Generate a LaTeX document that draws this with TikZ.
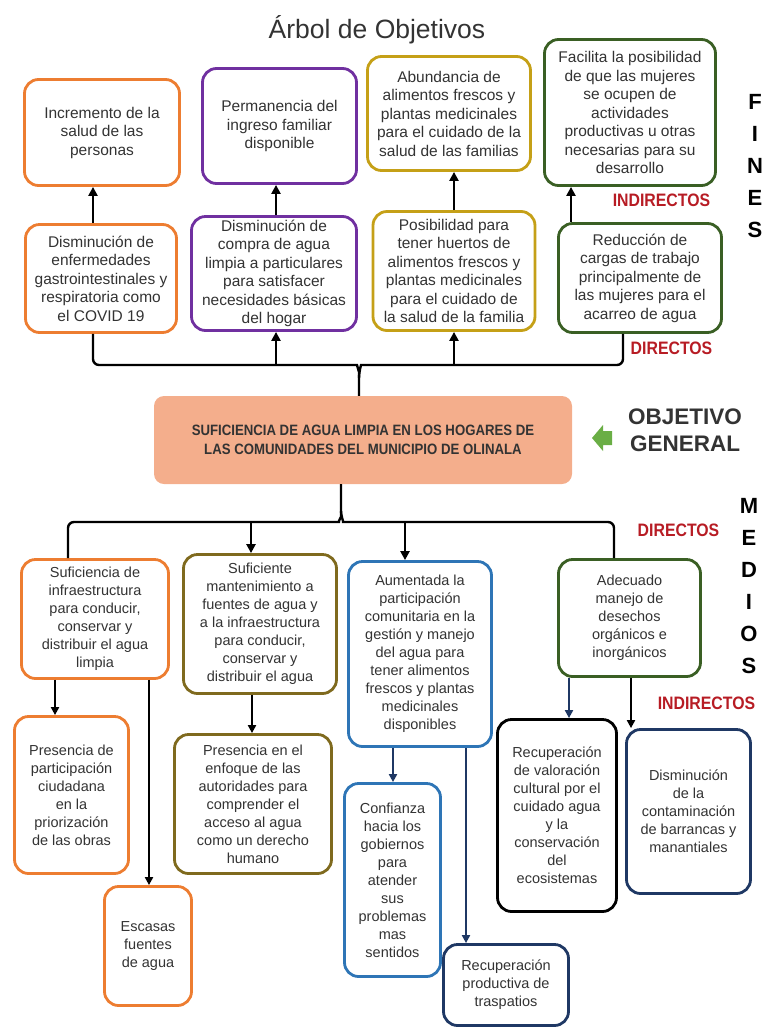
\documentclass[tikz,border=0pt]{standalone}
\usepackage{fontspec}
\setmainfont{Liberation Sans}
\newfontfamily\angosta[FakeStretch=0.88]{Liberation Sans}
\usetikzlibrary{arrows.meta}
\definecolor{naranja}{HTML}{ED7D31}
\definecolor{morado}{HTML}{7030A0}
\definecolor{dorado}{HTML}{C5A017}
\definecolor{verde}{HTML}{3A5F24}
\definecolor{oliva}{HTML}{7F6A1E}
\definecolor{azul}{HTML}{2E75B6}
\definecolor{marino}{HTML}{1F3864}
\definecolor{rojo}{HTML}{B71C24}
\definecolor{salmon}{HTML}{F4AE8C}
\definecolor{verdeclaro}{HTML}{6AAE45}
\definecolor{texto}{HTML}{333333}
\begin{document}
\begin{tikzpicture}[x=1pt, y=-1pt,
    caja/.style={draw=#1, line width=2.8pt, rounded corners=14pt, fill=white, align=center, inner sep=2pt, text=texto},
    fin/.style={font=\fontsize{15.5}{18.5}\selectfont},
    medio/.style={font=\fontsize{14.5}{18}\selectfont},
    flecha/.style={-{Triangle[length=9pt,width=9pt]}, line width=2.4pt},
    flechita/.style={-{Triangle[length=8pt,width=8pt]}, line width=2pt},
    llave/.style={line width=2.4pt, rounded corners=6pt},
    etiqueta/.style={text=rojo, font=\angosta\bfseries\fontsize{18}{20}\selectfont},
    letras/.style={align=center, font=\bfseries\fontsize{22}{32}\selectfont}]

    \useasboundingbox (0,0) rectangle (766,1029);

    \node[font=\fontsize{26.5}{30}\selectfont, text=texto] (titulo) at (377,30) {Árbol de Objetivos};

    \node[caja=naranja, fin, minimum width=155pt, minimum height=106pt] (f1) at (102,132.5) {Incremento de la\\salud de las\\personas};
    \node[caja=morado, fin, minimum width=154pt, minimum height=115pt] (f2) at (279.5,126) {Permanencia del\\ingreso familiar\\disponible};
    \node[caja=dorado, fin, minimum width=163pt, minimum height=114pt] (f3) at (449,113.5) {Abundancia de\\alimentos frescos y\\plantas medicinales\\para el cuidado de la\\salud de las familias};
    \node[caja=verde, fin, minimum width=171pt, minimum height=146pt] (f4) at (630,112.5) {Facilita la posibilidad\\de que las mujeres\\se ocupen de\\actividades\\productivas u otras\\necesarias para su\\desarrollo};

    \node[caja=naranja, fin, minimum width=151pt, minimum height=108pt] (d1) at (101,278.5) {Disminución de\\enfermedades\\gastrointestinales y\\respiratoria como\\el COVID 19};
    \node[caja=morado, fin, minimum width=165pt, minimum height=114pt] (d2) at (274,273.5) {Disminución de\\compra de agua\\limpia a particulares\\para satisfacer\\necesidades básicas\\del hogar};
    \node[caja=dorado, fin, minimum width=162pt, minimum height=119pt] (d3) at (454,271) {Posibilidad para\\tener huertos de\\alimentos frescos y\\plantas medicinales\\para el cuidado de\\la salud de la familia};
    \node[caja=verde, fin, minimum width=163pt, minimum height=109pt] (d4) at (640,278) {Reducción de\\cargas de trabajo\\principalmente de\\las mujeres para el\\acarreo de agua};

    \node[letras] (fines) at (755,166) {F\\I\\N\\E\\S};
    \node[etiqueta] (ind1) at (661.5,200) {INDIRECTOS};
    \node[etiqueta] (dir1) at (671.5,348) {DIRECTOS};

    \node[fill=salmon, rounded corners=10pt, minimum width=418pt, minimum height=88pt, align=center, text=texto,
        font=\angosta\bfseries\fontsize{15}{19}\selectfont] (obj) at (363,440)
        {SUFICIENCIA DE AGUA LIMPIA EN LOS HOGARES DE\\LAS COMUNIDADES DEL MUNICIPIO DE OLINALA};
    \fill[verdeclaro] (592,438) -- (603,425) -- (603,431) -- (612,431) -- (612,445) -- (603,445) -- (603,451) -- cycle;
    \node[align=center, text=texto, font=\bfseries\fontsize{22.5}{27}\selectfont] (general) at (685,430) {OBJETIVO\\GENERAL};

    \node[letras] (medios) at (749,586) {M\\E\\D\\I\\O\\S};
    \node[etiqueta] (dir2) at (678.5,530) {DIRECTOS};
    \node[etiqueta] (ind2) at (706.5,703) {INDIRECTOS};

    \node[caja=naranja, medio, minimum width=147pt, minimum height=119pt] (m1) at (95,619) {Suficiencia de\\infraestructura\\para conducir,\\conservar y\\distribuir el agua\\limpia};
    \node[caja=oliva, medio, minimum width=153pt, minimum height=139pt] (m2) at (260,624) {Suficiente\\mantenimiento a\\fuentes de agua y\\a la infraestructura\\para conducir,\\conservar y\\distribuir el agua};
    \node[caja=azul, medio, minimum width=143pt, minimum height=185pt] (m3) at (420,654) {Aumentada la\\participación\\comunitaria en la\\gestión y manejo\\del agua para\\tener alimentos\\frescos y plantas\\medicinales\\disponibles};
    \node[caja=verde, medio, minimum width=142pt, minimum height=117pt] (m4) at (629.5,618) {Adecuado\\manejo de\\desechos\\orgánicos e\\inorgánicos};

    \node[caja=naranja, medio, minimum width=114pt, minimum height=157pt] (m1a) at (71.5,795) {Presencia de\\participación\\ciudadana\\en la\\priorización\\de las obras};
    \node[caja=naranja, medio, minimum width=87pt, minimum height=119pt] (m1b) at (148,946) {Escasas\\fuentes\\de agua};
    \node[caja=oliva, medio, minimum width=157pt, minimum height=139pt] (m2a) at (253,804) {Presencia en el\\enfoque de las\\autoridades para\\comprender el\\acceso al agua\\como un derecho\\humano};
    \node[caja=azul, medio, minimum width=96pt, minimum height=193pt] (m3a) at (392.5,880) {Confianza\\hacia los\\gobiernos\\para\\atender\\sus\\problemas\\mas\\sentidos};
    \node[caja=marino, medio, minimum width=125pt, minimum height=81pt] (m3b) at (506,985) {Recuperación\\productiva de\\traspatios};
    \node[caja=black, medio, minimum width=119pt, minimum height=192pt] (m4a) at (557,815.5) {Recuperación\\de valoración\\cultural por el\\cuidado agua\\y la\\conservación\\del\\ecosistemas};
    \node[caja=marino, medio, minimum width=124pt, minimum height=164pt] (m4b) at (688.5,811.5) {Disminución\\de la\\contaminación\\de barrancas y\\manantiales};

    \coordinate (c1) at (93,0);
    \coordinate (c2) at (276,365);
    \coordinate (c3) at (454,365);
    \coordinate (c4) at (571,0);
    \coordinate (c5) at (623,0);
    \coordinate (nudo1) at (359,378);
    \draw[flecha] (d1.north -| c1) -- (f1.south -| c1);
    \draw[flecha] (d2.north -| c2) -- (f2.south -| c2);
    \draw[flecha] (d3.north -| c3) -- (f3.south -| c3);
    \draw[flecha] (d4.north -| c4) -- (f4.south -| c4);
    \draw[llave] (d1.south -| c1) |- (351,365) to[out=0,in=90] (nudo1) -- (obj.north -| nudo1);
    \draw[llave] (d4.south -| c5) |- (367,365) to[out=180,in=90] (nudo1);
    \draw[flecha] (c2) -- (d2.south -| c2);
    \draw[flecha] (c3) -- (d3.south -| c3);

    \coordinate (nudo2) at (341,511);
    \coordinate (c6) at (68,0);
    \coordinate (c7) at (251,522);
    \coordinate (c8) at (405,522);
    \coordinate (c9) at (614,0);
    \draw[llave] (obj.south -| nudo2) -- (nudo2) to[out=-90,in=0] (333,522) -| (m1.north -| c6);
    \draw[llave] (nudo2) to[out=-90,in=180] (349,522) -| (m4.north -| c9);
    \draw[flecha] (c7) -- (m2.north -| c7);
    \draw[flecha] (c8) -- (m3.north -| c8);

    \foreach \de/\a/\x/\col in {m1/m1a/55/black, m1/m1b/149/black, m2/m2a/252/black, m3/m3a/393/marino,
        m3/m3b/466/marino, m4/m4a/569/marino, m4/m4b/631/black}{
        \coordinate (k) at (\x,0);
        \draw[flechita, draw=\col, fill=\col] (\de.south -| k) -- (\a.north -| k);
    }
\end{tikzpicture}
\end{document}
